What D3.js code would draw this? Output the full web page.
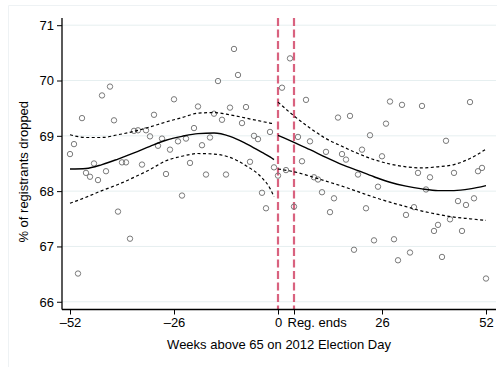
<!DOCTYPE html>
<html>
<head>
<meta charset="utf-8">
<script src="https://cdn.jsdelivr.net/npm/d3@7"></script>
<style>
  html, body { margin: 0; padding: 0; background: #fff; }
  svg { display: block; }
  text { font-family: "Liberation Sans", Arial, Helvetica, sans-serif; fill: #000; }
</style>
</head>
<body>
<svg id="chart" width="497" height="367"></svg>
<script>
// Weekly share of registrants dropped, by weeks above age 65 on Election Day 2012
const weeks = d3.range(-52, 53);
const dropped = [
  68.67, 68.85, 66.51, 69.32, 68.33, 68.26, 68.50, 68.20, 69.73, 68.36,
  69.89, 69.28, 67.63, 68.52, 68.52, 67.14, 69.09, 69.10, 68.48, 69.10,
  68.99, 69.38, 68.82, 68.95, 68.31, 68.75, 69.66, 68.90, 67.92, 68.95,
  68.51, 69.14, 69.53, 68.83, 68.30, 68.97, 69.40, 69.99, 69.29, 68.30,
  69.51, 70.57, 70.10, 69.23, 69.52, 68.53, 69.00, 68.94, 67.97, 67.69,
  69.07, 68.43,
  68.28, 69.87, 68.38, 70.40, 67.72, 68.98, 68.54, 69.65, 68.90, 68.25,
  68.21, 67.98, 68.71, 67.62, 67.87, 69.33, 68.67, 68.57, 69.36, 66.94,
  68.30, 68.75, 67.69, 69.01, 67.11, 68.08, 68.63, 69.22, 69.62, 67.13,
  66.75, 69.56, 67.57, 66.89, 67.71, 68.33, 69.54, 68.03, 68.25, 67.28,
  67.39, 66.81, 68.91, 67.49, 68.33, 67.82, 67.28, 67.75, 69.61, 67.87,
  68.36, 68.42, 66.42
];

// Fitted trend and confidence band, left of the cutoff
const fitWeeksLeft = [-52, -48, -44, -40, -36, -32, -28, -24, -20, -16, -12, -8, -4, -2, -1];
const fitLeft      = [68.40, 68.41, 68.48, 68.58, 68.69, 68.81, 68.92, 68.99, 69.04, 69.05, 68.99, 68.86, 68.70, 68.62, 68.57];
const upperLeft    = [69.02, 68.97, 68.97, 69.02, 69.08, 69.16, 69.25, 69.33, 69.41, 69.42, 69.38, 69.32, 69.26, 69.23, 69.22];
const lowerLeft    = [67.78, 67.89, 68.01, 68.12, 68.25, 68.39, 68.55, 68.63, 68.68, 68.67, 68.61, 68.46, 68.24, 68.05, 67.90];

// Fitted trend and confidence band, right of the cutoff
const fitWeeksRight = [0, 4, 8, 12, 16, 20, 24, 28, 32, 36, 40, 44, 48, 52];
const fitRight      = [69.01, 68.88, 68.75, 68.61, 68.48, 68.37, 68.26, 68.16, 68.09, 68.04, 68.01, 68.01, 68.04, 68.10];
const upperRight    = [69.61, 69.36, 69.14, 68.95, 68.81, 68.68, 68.57, 68.49, 68.44, 68.42, 68.44, 68.48, 68.59, 68.76];
const lowerRight    = [68.40, 68.35, 68.27, 68.18, 68.09, 67.99, 67.89, 67.80, 67.72, 67.64, 67.58, 67.53, 67.50, 67.47];

// Reference lines: Election Day cutoff and end of registration
const cutoffWeeks = [0, 4];

const yTicks = [66, 67, 68, 69, 70, 71];
const xTicks = [-52, -26, 0, 4, 26, 52];
const xTickLabels = ["\u201352", "\u201326", "0", "Reg. ends", "26", "52"];

const svg = d3.select("#chart");

// Light outer frame of the graph region
svg.append("path")
  .attr("d", "M8.5,367 V5.5 H497")
  .attr("fill", "none")
  .attr("stroke", "#eef2f4")
  .attr("stroke-width", 1);

const plot = { left: 62, right: 496, top: 18, bottom: 309.5 };

const x = d3.scaleLinear().domain([-54, 54.5]).range([plot.left, plot.right]);
const y = d3.scaleLinear().domain([65.86, 71.13]).range([plot.bottom, plot.top]);

// Horizontal gridlines
svg.append("g")
  .selectAll("line")
  .data(yTicks)
  .join("line")
  .attr("x1", plot.left)
  .attr("x2", plot.right)
  .attr("y1", d => y(d))
  .attr("y2", d => y(d))
  .attr("stroke", "#e6eff0")
  .attr("stroke-width", 1);

// Vertical dashed reference lines
svg.append("g")
  .selectAll("line")
  .data(cutoffWeeks)
  .join("line")
  .attr("x1", d => x(d))
  .attr("x2", d => x(d))
  .attr("y1", plot.top)
  .attr("y2", plot.bottom)
  .attr("stroke", "#d9627f")
  .attr("stroke-width", 2.2)
  .attr("stroke-dasharray", "8,3.5");

// Scatter of weekly values
svg.append("g")
  .selectAll("circle")
  .data(weeks.map((w, i) => ({ w, v: dropped[i] })))
  .join("circle")
  .attr("cx", d => x(d.w))
  .attr("cy", d => y(d.v))
  .attr("r", 2.7)
  .attr("fill", "none")
  .attr("stroke", "#7a7a7a")
  .attr("stroke-width", 1);

// Fitted curves
const line = d3.line()
  .x(d => x(d[0]))
  .y(d => y(d[1]))
  .curve(d3.curveMonotoneX);

function drawCurve(ws, vs, dashed) {
  svg.append("path")
    .datum(ws.map((w, i) => [w, vs[i]]))
    .attr("d", line)
    .attr("fill", "none")
    .attr("stroke", "#000")
    .attr("stroke-width", dashed ? 1.2 : 1.4)
    .attr("stroke-dasharray", dashed ? "3,2.5" : null);
}
drawCurve(fitWeeksLeft, fitLeft, false);
drawCurve(fitWeeksLeft, upperLeft, true);
drawCurve(fitWeeksLeft, lowerLeft, true);
drawCurve(fitWeeksRight, fitRight, false);
drawCurve(fitWeeksRight, upperRight, true);
drawCurve(fitWeeksRight, lowerRight, true);

// Y axis
const yAxis = svg.append("g")
  .attr("transform", `translate(${plot.left},0)`)
  .call(d3.axisLeft(y).tickValues(yTicks).tickSize(5).tickPadding(3).tickFormat(d3.format("d")));
yAxis.select(".domain").attr("d", `M0,${plot.top}V${plot.bottom}`).attr("stroke", "#000").attr("stroke-width", 1.3);
yAxis.selectAll(".tick line").attr("stroke", "#000");
yAxis.selectAll(".tick text").style("font-size", "13px").attr("dy", "0.34em");

// X axis
const xAxis = svg.append("g")
  .attr("transform", `translate(0,${plot.bottom})`)
  .call(d3.axisBottom(x).tickValues(xTicks).tickSize(5).tickPadding(3)
    .tickFormat((d, i) => xTickLabels[i]));
xAxis.select(".domain").attr("d", `M${plot.left},0H${plot.right}`).attr("stroke", "#000").attr("stroke-width", 1.3);
xAxis.selectAll(".tick line").attr("stroke", "#000");
xAxis.selectAll(".tick text").style("font-size", "13px");
xAxis.selectAll(".tick text")
  .filter(d => d === 4)
  .attr("text-anchor", "start")
  .attr("x", -7);

// Axis titles
svg.append("text")
  .attr("transform", `translate(28,${(plot.top + plot.bottom) / 2 + 8}) rotate(-90)`)
  .attr("text-anchor", "middle")
  .style("font-size", "13px")
  .text("% of registrants dropped");

svg.append("text")
  .attr("x", 279)
  .attr("y", 349)
  .attr("text-anchor", "middle")
  .style("font-size", "13px")
  .text("Weeks above 65 on 2012 Election Day");
</script>
</body>
</html>
